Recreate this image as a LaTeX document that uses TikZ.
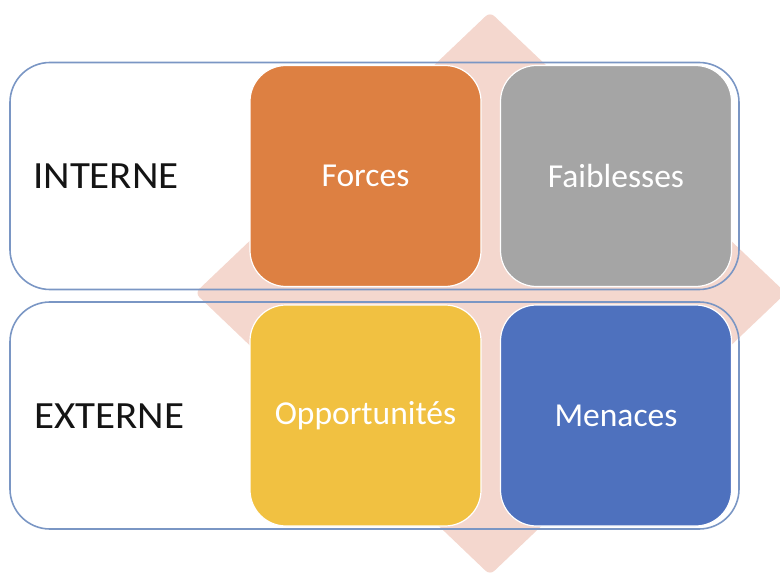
\documentclass[tikz,border=0pt]{standalone}
\usepackage{fontspec}
\setmainfont{Carlito}
\definecolor{diam}{RGB}{244,215,206}
\definecolor{frame}{RGB}{122,150,196}
\definecolor{forcesc}{RGB}{221,128,66}
\definecolor{faibc}{RGB}{165,165,165}
\definecolor{oppc}{RGB}{241,193,65}
\definecolor{menc}{RGB}{78,113,190}
\definecolor{labc}{RGB}{20,20,20}
\tikzset{
  outerbox/.style={draw=frame, line width=1.6pt, rounded corners=40pt,
    minimum width=729pt, minimum height=227pt, inner sep=0pt},
  cell/.style={draw=white, line width=1.2pt, rounded corners=36pt,
    minimum width=231pt, minimum height=221pt, inner sep=0pt,
    text=white, font=\fontsize{33.5}{36}\selectfont},
  rowlabel/.style={anchor=west, inner sep=0pt, text=labc,
    font=\fontsize{38.5}{40}\selectfont}
}
\begin{document}
\begin{tikzpicture}[x=1pt,y=-1pt]
\useasboundingbox (0,0) rectangle (780,575);
\begin{scope}
  \clip (0,0) rectangle (780,575);
  \fill[diam, rounded corners=6pt] (490,12) -- (786,293) -- (490,575) -- (195,293) -- cycle;
\end{scope}
\node[outerbox] (interne) at (374.5,176) {};
\node[outerbox] (externe) at (374.5,415.5) {};
\node[rowlabel] (lint) at (33,176) {\scalebox{1.065}[1]{INTERNE}};
\node[rowlabel] (lext) at (34,416) {\scalebox{1.065}[1]{EXTERNE}};
\node[cell, fill=forcesc] (forces) at (365.5,176) {Forces};
\node[cell, fill=faibc] (faib) at (616,176) {Faiblesses};
\node[cell, fill=oppc] (opp) at (365.5,415.5) {Opportunités};
\node[cell, fill=menc] (men) at (616,415.5) {Menaces};
\end{tikzpicture}
\end{document}
